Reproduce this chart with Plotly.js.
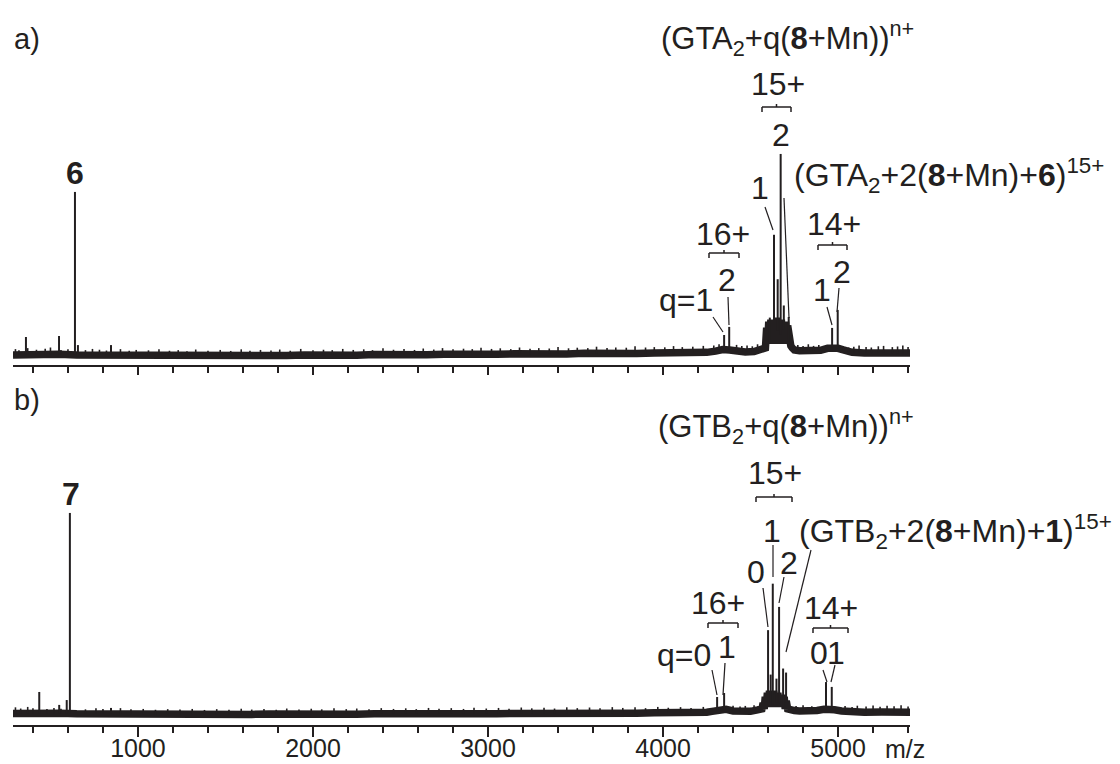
<!DOCTYPE html>
<html><head><meta charset="utf-8">
<script src="https://cdn.plot.ly/plotly-3.0.1.min.js"></script>
<style>body{margin:0;background:#fff}#chart{width:1120px;height:764px}</style>
</head><body><div id="chart"></div>
<script>
// ---------------- DATA ----------------
// Panel a) : smoothed baseline of the spectrum (m/z, relative intensity)
const baseA_mz  = [286,350,450,550,650,750,850,950,1050,1150,1250,1350,1450,1550,1650,1750,1850,1950,2050,2150,2250,2350,2450,2550,2650,2750,2850,2950,3050,3150,3250,3350,3450,3550,3650,3750,3850,3950,4050,4150,4250,4300,4340,4380,4420,4470,4520,4560,4585,4592,4598,4604,4610,4616,4622,4628,4634,4640,4646,4652,4658,4664,4670,4676,4682,4688,4694,4700,4706,4712,4718,4724,4730,4738,4750,4780,4850,4900,4940,4970,5000,5030,5080,5150,5250,5350,5411];
const baseA_int = [0.5,0.8,0.6,0.9,0.5,0.4,0.6,0.3,0.2,0.4,0.1,0.3,0.2,0.4,0.1,0.3,0.2,0.5,0.3,0.6,0.4,0.7,0.5,0.8,0.6,0.9,0.7,1.0,0.8,1.1,0.9,1.2,1.0,1.3,1.1,1.4,1.2,1.5,1.3,1.6,1.8,2.4,3.2,3.0,2.4,2.0,2.2,3.0,4,14,7,17,6,18,7,16,6,18,7,19,6,17,7,18,6,16,7,17,6,15,7,13,5,4,3,2.6,2.4,2.8,3.8,4.2,3.8,3.0,1.8,1.5,1.6,1.3,1.5];
// Panel a) : peaks
const peakA_mz  = [360,549,640,657,846,4349,4378,4610,4634,4655,4672,4690,4718,4966,4998];
const peakA_int = [9.4,9.9,81.2,5.4,5.4,10.4,14.4,19,60,38,100,25,19.3,13.9,22.8];
// Panel a) : small noise spikes
const noiseA_mz  = [300,320,370,420,470,500,560,600, 700,740,780,820, 900,950,990, 1060,1120,1180,1230,1280,1330, 1400,1470,1530,1590,1640,1700, 1760,1810,1870,1930,2000, 2060,2110,2170,2230,2290,2340, 2400,2460,2520,2580,2630,2690, 2740,2800,2860,2910,2960, 3020,3070,3130,3180,3240,3290, 3350,3400,3460,3510,3570,3620, 3680,3730,3790,3840,3900,3950, 4010,4060,4110,4170,4230,4290, 4320,4420,4450,4480,4510,4540, 4770,4800,4830,4860,4890, 5030,5060,5090,5120,5160,5190, 5230,5260,5310,5340,5370,5400];
const noiseA_int = [3.4,2.8,3.9,3.1,3.6,4.2,3.0,3.3, 2.9,3.5,3.1,2.7, 3.4,2.6,3.0, 2.8,3.3,2.6,2.9,2.4,3.2, 2.6,3.0,2.5,3.3,2.6,3.0, 2.7,3.2,2.6,3.5,2.8, 3.1,2.9,3.5,3.0,3.3,2.9, 3.8,3.1,3.4,3.0,3.7,3.2, 3.9,3.3,3.6,3.4,4.1, 3.5,3.8,3.4,4.2,3.6,3.9, 3.7,4.4,3.8,4.1,3.9,4.6, 4.0,4.2,4.1,4.8,4.2,4.4, 4.3,4.9,4.4,4.6,5.0,5.2, 5.8,5.5,5.0,5.2,4.8,5.8, 5.4,5.0,5.8,5.0,5.4, 4.8,4.2,4.6,5.2,4.4,4.2, 4.8,5.0,4.4,4.7,5.2,4.5];

// Panel b)
const baseB_mz  = [286,350,450,550,650,750,850,950,1050,1150,1250,1350,1450,1550,1650,1750,1850,1950,2050,2150,2250,2350,2450,2550,2650,2750,2850,2950,3050,3150,3250,3350,3450,3550,3650,3750,3850,3950,4050,4150,4250,4280,4320,4360,4400,4450,4500,4540,4565,4572,4578,4584,4590,4596,4602,4608,4614,4620,4626,4632,4638,4644,4650,4656,4662,4668,4674,4680,4686,4692,4698,4704,4712,4725,4750,4780,4830,4880,4920,4950,4980,5020,5080,5150,5250,5350,5411];
const baseB_int = [0.8,1.0,0.7,0.9,0.6,0.5,0.6,0.4,0.3,0.5,0.3,0.4,0.2,0.4,0.3,0.5,0.3,0.5,0.4,0.6,0.4,0.6,0.5,0.7,0.5,0.7,0.6,0.8,0.6,0.8,0.7,0.9,0.7,1.0,0.8,1.0,0.9,1.1,1.0,1.2,1.4,1.8,2.6,2.8,2.0,1.6,1.8,2.5,3,6,3,9,4,11,4,12,5,11,4,12,5,11,4,11,5,10,4,10,4,9,3,7,3,2.5,2.2,2.0,1.8,2.2,2.8,3.0,2.6,2.0,1.6,1.4,1.5,1.3,1.4];
const peakB_mz  = [436,550,593,611,846,4309,4349,4600,4615,4627,4648,4663,4686,4703,4931,4964];
const peakB_int = [11.4,5,7.4,100,3.5,8.9,10.9,42,20,65,18,53.5,23,21,16.3,13.9];
const noiseB_mz  = [300,330,370,400,480,520,560, 700,760,800, 900,960,1030,1100,1170,1240, 1310,1380,1450,1520,1590,1650, 1720,1790,1850,1920,1990,2050, 2120,2190,2250,2320,2390,2460, 2530,2590,2660,2720,2790,2860, 2920,2990,3060,3120,3190,3250, 3320,3380,3450,3510,3580,3640, 3710,3770,3840,3900,3970,4030, 4100,4160,4230, 4400,4440,4470,4520, 4760,4800,4850, 5040,5080,5110,5160,5200,5240, 5280,5320,5360,5400];
const noiseB_int = [3.8,3.2,4.0,3.4,3.0,3.5,3.1, 2.8,3.3,3.0, 3.4,2.8,3.0,2.6,2.9,2.7, 3.0,2.5,2.9,2.6,3.1,2.7, 3.0,2.6,3.2,2.7,3.1,2.8, 3.3,2.9,3.2,2.8,3.4,3.0, 3.3,2.9,3.5,3.1,3.4,3.0, 3.6,3.2,3.5,3.1,3.7,3.3, 3.6,3.2,3.8,3.4,3.7,3.3, 3.9,3.5,3.8,3.4,4.0,3.6, 3.9,3.5,4.0, 4.6,4.2,4.5,4.8, 4.4,4.8,4.3, 4.5,4.0,4.6,4.2,4.7,4.1, 4.6,4.3,4.8,4.2];

const tickVals = [1000,2000,3000,4000,5000];
const tickText = ['1000','2000','3000','4000','5000'];
const minorTickVals = [400,600,800,1200,1400,1600,1800,2200,2400,2600,2800,3200,3400,3600,3800,4200,4400,4600,4800,5200,5400];

// ---------------- DRAWING ----------------
const INK = '#231f20';
const FONT = 'Arial, "Liberation Sans", sans-serif';

function interp(xs, ys, x){
  if (x <= xs[0]) return ys[0];
  for (let i=1;i<xs.length;i++){
    if (x <= xs[i]){ const t=(x-xs[i-1])/(xs[i]-xs[i-1]); return ys[i-1]+t*(ys[i]-ys[i-1]); }
  }
  return ys[ys.length-1];
}
function sticks(mz, inten, bmz, bint){
  const x=[], y=[];
  mz.forEach((m,i)=>{ x.push(m,m,null); y.push(Math.min(interp(bmz,bint,m), inten[i]), inten[i], null); });
  return {x, y};
}

const sA = sticks(peakA_mz, peakA_int, baseA_mz, baseA_int);
const nA = sticks(noiseA_mz, noiseA_int, baseA_mz, baseA_int);
const sB = sticks(peakB_mz, peakB_int, baseB_mz, baseB_int);
const nB = sticks(noiseB_mz, noiseB_int, baseB_mz, baseB_int);

const traces = [
  {x:baseA_mz, y:baseA_int, mode:'lines', line:{color:INK, width:7.5}, xaxis:'x', yaxis:'y', hoverinfo:'skip'},
  {x:nA.x, y:nA.y, mode:'lines', line:{color:INK, width:1.6}, xaxis:'x', yaxis:'y', hoverinfo:'skip'},
  {x:sA.x, y:sA.y, mode:'lines', line:{color:INK, width:2}, xaxis:'x', yaxis:'y', hoverinfo:'skip'},
  {x:baseB_mz, y:baseB_int, mode:'lines', line:{color:INK, width:7.5}, xaxis:'x2', yaxis:'y2', hoverinfo:'skip'},
  {x:nB.x, y:nB.y, mode:'lines', line:{color:INK, width:1.6}, xaxis:'x2', yaxis:'y2', hoverinfo:'skip'},
  {x:sB.x, y:sB.y, mode:'lines', line:{color:INK, width:2}, xaxis:'x2', yaxis:'y2', hoverinfo:'skip'}
];

// plot-area pixel frame
const W=1120, H=764, L=13, R=910, T=0, B=725;
const px = x => (x-L)/(R-L);
const py = y => (B-y)/(B-T);

function label(text, x, y, size, anchor){
  return {text, x:px(x), y:py(y), xref:'paper', yref:'paper', showarrow:false,
    xanchor:anchor||'center', yanchor:'middle', font:{family:FONT, size:size||32, color:INK}};
}
function seg(x0,y0,x1,y1,w){
  return {type:'line', xref:'paper', yref:'paper', x0:px(x0), y0:py(y0), x1:px(x1), y1:py(y1),
    line:{color:INK, width:w||1.2}};
}
function bracket(x0,x1,y){
  const m=(x0+x1)/2;
  return [seg(x0,y,x1,y,1.5), seg(x0,y,x0,y+5,1.5), seg(x1,y,x1,y+5,1.5), seg(m,y,m,y-3,1.5)];
}

const annotations = [
  label('a)', 12, 39, 29, 'left'),
  label('(GTA<sub>2</sub>+q(<b>8</b>+Mn))<sup>n+</sup>', 659, 39, 31, 'left'),
  label('15+', 778, 84),
  label('2', 781, 135),
  label('1', 760, 188),
  label('(GTA<sub>2</sub>+2(<b>8</b>+Mn)+<b>6</b>)<sup>15+</sup>', 792, 176, 32, 'left'),
  label('16+', 723, 234),
  label('q=1', 686, 300),
  label('2', 727, 280),
  label('14+', 834, 224),
  label('1', 822, 290),
  label('2', 842, 272),
  label('<b>6</b>', 75, 173),

  label('b)', 12, 400, 29, 'left'),
  label('(GTB<sub>2</sub>+q(<b>8</b>+Mn))<sup>n+</sup>', 656, 427, 31, 'left'),
  label('15+', 775, 473),
  label('1', 772, 531),
  label('(GTB<sub>2</sub>+2(<b>8</b>+Mn)+<b>1</b>)<sup>15+</sup>', 797, 531, 32, 'left'),
  label('0', 756, 572),
  label('2', 789, 563),
  label('16+', 718, 603),
  label('q=0', 684, 655),
  label('1', 727, 647),
  label('14+', 831, 608),
  label('0', 819, 653),
  label('1', 836, 653),
  label('<b>7</b>', 71, 494),
  label('m/z', 905, 749, 25)
];

const shapes = [
  ...bracket(762,791,107),
  seg(765,207,773,230),
  seg(784,198,789,318),
  ...bracket(709,739,253),
  seg(713,317,723,332),
  seg(728,297,729,325),
  ...bracket(818,847,245),
  seg(827,307,832,325),
  seg(839,288,837,312),

  ...bracket(756,792,497),
  seg(773,545,773,577),
  seg(811,550,786,652),
  seg(763,588,768,627),
  seg(784,577,779,603),
  ...bracket(708,738,623),
  seg(712,670,717,695),
  seg(725,663,723,695),
  ...bracket(813,848,628),
  seg(823,670,827,682),
  seg(835,665,831,682)
];

const axisCommon = {
  range:[286,5411], showline:true, linecolor:INK, linewidth:2, showgrid:false, zeroline:false,
  ticks:'outside', tickmode:'array', tickvals:tickVals, ticktext:tickText, tickcolor:INK, tickwidth:2.5,
  minor:{tickmode:'array', tickvals:minorTickVals, ticks:'outside', ticklen:6, tickwidth:2, tickcolor:INK, showgrid:false},
  fixedrange:true
};

const layout = {
  width:W, height:H, autosize:false,
  margin:{l:L, r:W-R, t:T, b:H-B, pad:0},
  paper_bgcolor:'#ffffff', plot_bgcolor:'rgba(0,0,0,0)',
  showlegend:false,
  font:{family:FONT, color:INK},
  xaxis: Object.assign({}, axisCommon, {anchor:'y', domain:[0,1], ticklen:8, showticklabels:false}),
  yaxis: {domain:[py(365),1], range:[-4.46,176.2], visible:false, fixedrange:true},
  xaxis2: Object.assign({}, axisCommon, {anchor:'y2', domain:[0,1], ticklen:10, showticklabels:true,
     ticklabelstandoff:-10, tickfont:{family:FONT, size:25, color:INK}}),
  yaxis2: {domain:[0,py(380)], range:[-4.95,165.8], visible:false, fixedrange:true},
  annotations, shapes
};

Plotly.newPlot('chart', traces, layout, {displayModeBar:false, staticPlot:true});
</script>
</body></html>
